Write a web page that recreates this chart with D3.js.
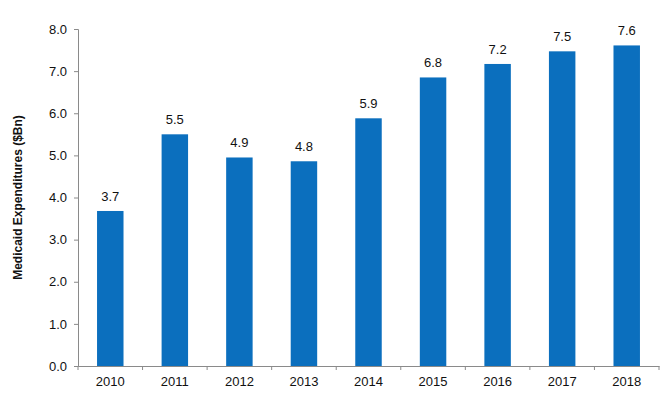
<!DOCTYPE html>
<html>
<head>
<meta charset="utf-8">
<script src="https://cdn.jsdelivr.net/npm/d3@7"></script>
<style>
  body { margin: 0; background: #fff; }
  text { font-family: "Liberation Sans", Arial, sans-serif; }
</style>
</head>
<body>
<svg id="chart"></svg>
<script>
// data
var years = ["2010","2011","2012","2013","2014","2015","2016","2017","2018"];
var spend = [3.68, 5.5, 4.95, 4.86, 5.88, 6.85, 7.17, 7.47, 7.61];
var spendLabels = ["3.7","5.5","4.9","4.8","5.9","6.8","7.2","7.5","7.6"];
var yTicks = [0, 1, 2, 3, 4, 5, 6, 7, 8];

var width = 669, height = 405;
var margin = {top: 29, right: 10, bottom: 39, left: 78};

var svg = d3.select("#chart")
    .attr("width", width)
    .attr("height", height);

var x = d3.scaleBand()
    .domain(years)
    .range([margin.left, width - margin.right])
    .paddingInner(0.59)
    .paddingOuter(0.295);

var y = d3.scaleLinear()
    .domain([0, 8])
    .range([height - margin.bottom, margin.top]);

// bars
svg.append("g")
    .selectAll("rect")
    .data(years)
    .join("rect")
    .attr("x", d => x(d))
    .attr("y", (d, i) => y(spend[i]))
    .attr("width", x.bandwidth())
    .attr("height", (d, i) => y(0) - y(spend[i]))
    .attr("fill", "#0B6FBE");

// value labels
svg.append("g")
    .selectAll("text")
    .data(years)
    .join("text")
    .attr("x", d => x(d) + x.bandwidth() / 2)
    .attr("y", (d, i) => y(spend[i]) - 10)
    .attr("text-anchor", "middle")
    .attr("font-size", "13px")
    .attr("fill", "#111")
    .text((d, i) => spendLabels[i]);

// y axis
var yAxis = svg.append("g")
    .attr("transform", "translate(" + margin.left + ",0)")
    .call(d3.axisLeft(y).tickValues(yTicks).tickFormat(d3.format(".1f")).tickSize(4).tickPadding(7));

// x axis with ticks between categories
var xAxis = svg.append("g")
    .attr("transform", "translate(0," + y(0) + ")")
    .call(d3.axisBottom(x).tickSize(0).tickPadding(11));
xAxis.selectAll(".tick")
    .append("line")
    .attr("x1", -x.step() / 2)
    .attr("x2", -x.step() / 2)
    .attr("y1", 0)
    .attr("y2", 4)
    .attr("stroke", "#8a8a8a");
xAxis.append("line")
    .attr("x1", width - margin.right)
    .attr("x2", width - margin.right)
    .attr("y1", 0)
    .attr("y2", 4)
    .attr("stroke", "#8a8a8a");

[yAxis, xAxis].forEach(function(g){
    g.select(".domain").attr("stroke", "#8a8a8a");
    g.selectAll(".tick line").attr("stroke", "#8a8a8a");
    g.selectAll(".tick text")
      .attr("font-size", "13px")
      .attr("fill", "#111")
      .style("font-family", "'Liberation Sans', Arial, sans-serif");
});

// y title
svg.append("text")
    .attr("transform", "translate(22," + ((y(0) + y(8)) / 2) + ") rotate(-90)")
    .attr("text-anchor", "middle")
    .attr("font-size", "12px")
    .attr("font-weight", "bold")
    .attr("fill", "#111")
    .text("Medicaid Expenditures ($Bn)");
</script>
</body>
</html>
